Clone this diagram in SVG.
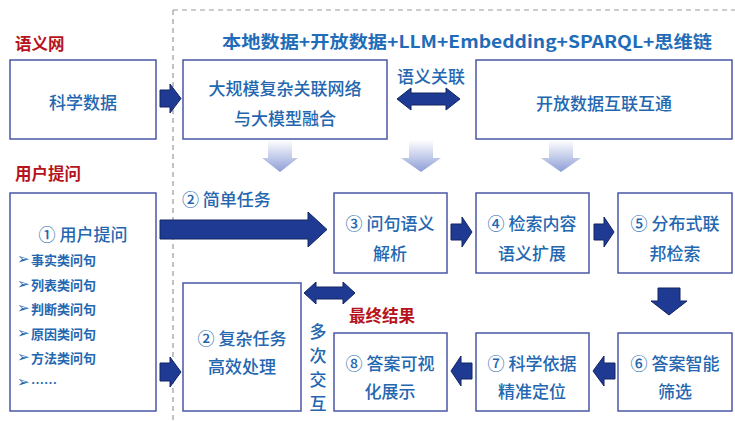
<svg xmlns="http://www.w3.org/2000/svg" width="735" height="421" viewBox="0 0 735 421">
<defs>
<style>
.box{fill:#fff;stroke:#4A58A6;stroke-width:1.5}
.t{font-family:"Noto Sans CJK SC","Noto Sans",sans-serif;font-size:17px;font-weight:500;fill:#2467B0;text-anchor:middle;dominant-baseline:central}
.li{font-family:"Noto Sans CJK SC","Noto Sans",sans-serif;font-size:13px;font-weight:bold;fill:#2467B0;dominant-baseline:central}
.bul{font-family:"DejaVu Sans",sans-serif;font-size:15px;fill:#2467B0;dominant-baseline:central}
.red{font-family:"Noto Sans CJK SC","Noto Sans",sans-serif;font-size:16.5px;font-weight:bold;fill:#B5141C;dominant-baseline:central}
.title{font-family:"Noto Sans CJK SC","Noto Sans",sans-serif;font-size:17px;font-weight:bold;fill:#1F6CB8;dominant-baseline:central}
.arr{fill:#1F3A93;stroke:#122563;stroke-width:1;stroke-linejoin:round}
.garr{fill:url(#g);stroke:none}
</style>
<linearGradient id="g" x1="0" y1="0" x2="0" y2="1">
<stop offset="0" stop-color="#ffffff"/>
<stop offset="1" stop-color="#8E9ED6"/>
</linearGradient>
</defs>

<path d="M173 10 V421 M173 10 H735" fill="none" stroke="#9A9A9A" stroke-width="1.2" stroke-dasharray="5,4"/>

<text class="red" x="15" y="43">语义网</text>
<text class="red" x="15" y="173">用户提问</text>
<text class="title" x="222" y="40" textLength="490" lengthAdjust="spacingAndGlyphs">本地数据+开放数据+LLM+Embedding+SPARQL+思维链</text>
<text class="t" x="431" y="75">语义关联</text>
<text class="t" x="182" y="198" style="text-anchor:start">② 简单任务</text>
<text class="red" x="349" y="315">最终结果</text>
<g id="duoci">
<text class="t" x="318" y="330">多</text>
<text class="t" x="318" y="354">次</text>
<text class="t" x="318" y="378">交</text>
<text class="t" x="318" y="402">互</text>
</g>

<g id="n-kexue"><rect class="box" x="10" y="60" width="146" height="79"/><text class="t" x="83" y="101">科学数据</text></g>
<g id="n-daguimo"><rect class="box" x="183" y="60" width="204" height="79"/><text class="t" x="285" y="87">大规模复杂关联网络</text><text class="t" x="285" y="117">与大模型融合</text></g>
<g id="n-kaifang"><rect class="box" x="476" y="60" width="256" height="79"/><text class="t" x="604" y="102">开放数据互联互通</text></g>

<g id="n-user"><rect class="box" x="10" y="193" width="146" height="218"/>
<text class="t" x="83" y="233">① 用户提问</text>
<text class="bul" x="17" y="259">➢</text><text class="li" x="31" y="259">事实类问句</text>
<text class="bul" x="17" y="284">➢</text><text class="li" x="31" y="284">列表类问句</text>
<text class="bul" x="17" y="308">➢</text><text class="li" x="31" y="308">判断类问句</text>
<text class="bul" x="17" y="333">➢</text><text class="li" x="31" y="333">原因类问句</text>
<text class="bul" x="17" y="357">➢</text><text class="li" x="31" y="357">方法类问句</text>
<text class="bul" x="17" y="382">➢</text><text class="li" x="31" y="382">……</text>
</g>

<g id="n3"><rect class="box" x="334" y="193" width="113" height="80"/><text class="t" x="390" y="222">③ 问句语义</text><text class="t" x="390" y="252">解析</text></g>
<g id="n4"><rect class="box" x="476" y="193" width="113" height="80"/><text class="t" x="532" y="222">④ 检索内容</text><text class="t" x="532" y="252">语义扩展</text></g>
<g id="n5"><rect class="box" x="618" y="193" width="114" height="80"/><text class="t" x="675" y="222">⑤ 分布式联</text><text class="t" x="675" y="252">邦检索</text></g>
<g id="n2"><rect class="box" x="183" y="283" width="118" height="128"/><text class="t" x="242" y="337">② 复杂任务</text><text class="t" x="242" y="365">高效处理</text></g>
<g id="n8"><rect class="box" x="334" y="333" width="113" height="78"/><text class="t" x="390" y="362">⑧ 答案可视</text><text class="t" x="390" y="390">化展示</text></g>
<g id="n7"><rect class="box" x="476" y="333" width="113" height="78"/><text class="t" x="532" y="362">⑦ 科学依据</text><text class="t" x="532" y="390">精准定位</text></g>
<g id="n6"><rect class="box" x="618" y="333" width="114" height="78"/><text class="t" x="675" y="362">⑥ 答案智能</text><text class="t" x="675" y="390">筛选</text></g>

<g id="connectors">
<path class="garr" d="M268 140 H292 V158 H298 L280 172 L262 158 H268 Z"/>
<path class="garr" d="M409 140 H433 V158 H441 L421 172 L401 158 H409 Z"/>
<path class="garr" d="M549 140 H573 V158 H581 L561 172 L541 158 H549 Z"/>

<path class="arr" d="M160 90 H170 V84 L181 98.5 L170 113 V107 H160 Z"/>
<path class="arr" d="M160 220 H308 V212 L327 229.5 L308 247 V239 H160 Z"/>
<path class="arr" d="M160 363 H170 V357 L181 372 L170 387 V381 H160 Z"/>
<path class="arr" d="M397 99 L411 88 V93 H446 V88 L460 99 L446 110 V105 H411 V110 Z"/>
<path class="arr" d="M304 293 L316 282 V287 H343 V282 L355 293 L343 304 V299 H316 V304 Z"/>
<path class="arr" d="M451 224 H462 V217 L472 232 L462 247 V240 H451 Z"/>
<path class="arr" d="M594 224 H604 V217 L614 232 L604 247 V240 H594 Z"/>
<path class="arr" d="M658 288 H680 V301 H687 L669 315 L651 301 H658 Z"/>
<path class="arr" d="M615 363 H604 V356 L593 371 L604 386 V379 H615 Z"/>
<path class="arr" d="M472 363 H461 V356 L451 371 L461 386 V379 H472 Z"/>
</g>
</svg>
